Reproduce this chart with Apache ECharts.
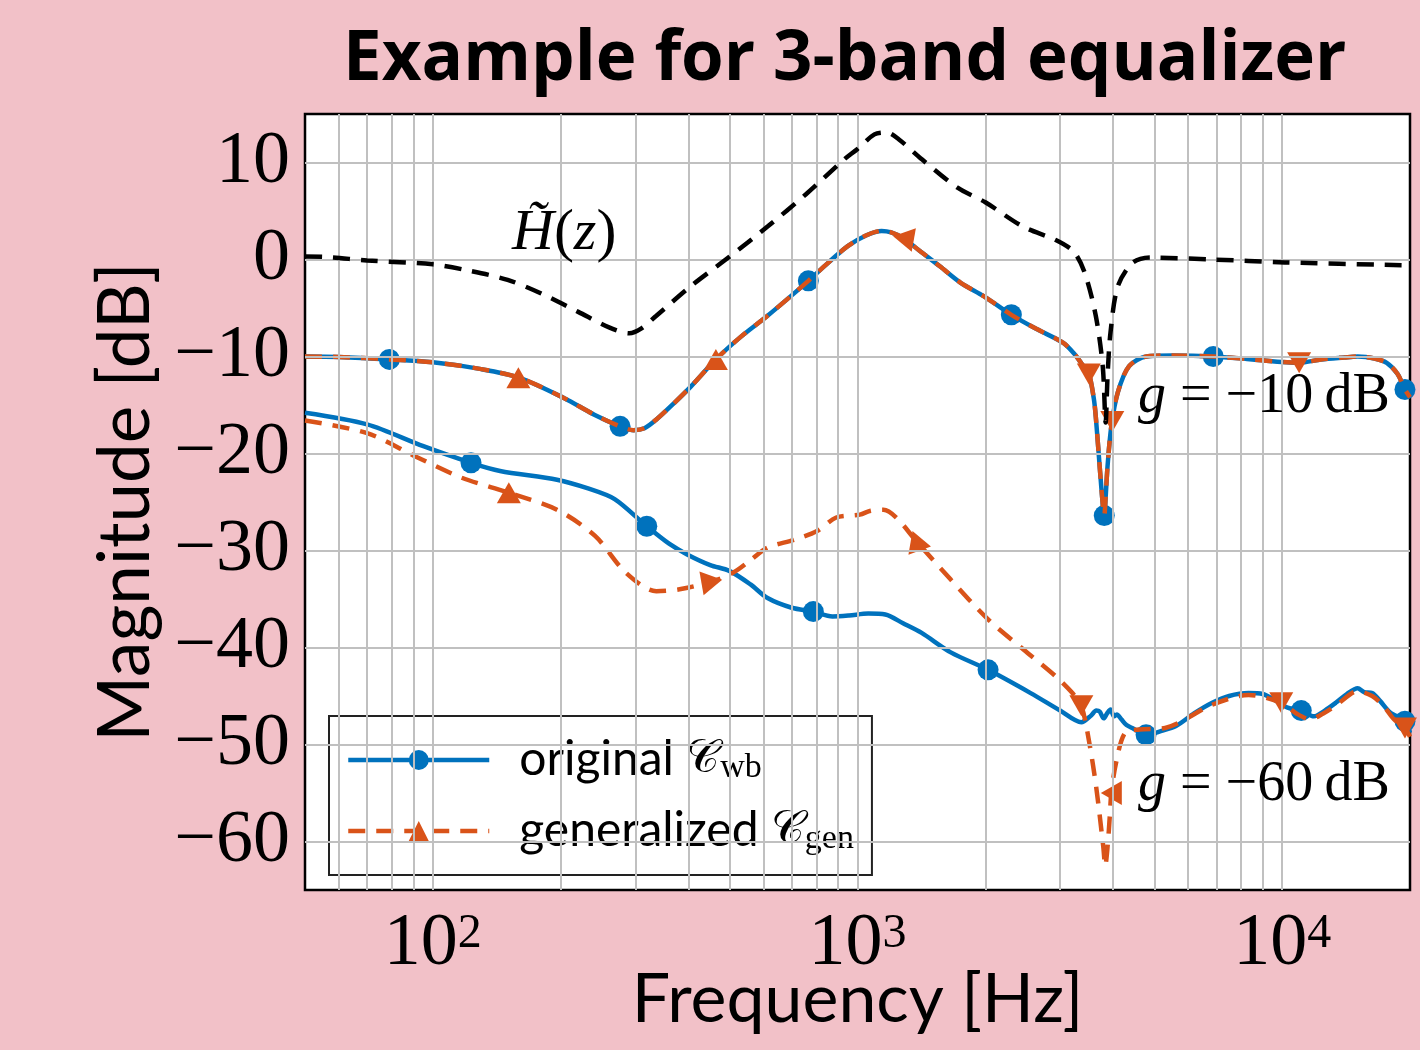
<!DOCTYPE html>
<html>
<head>
<meta charset="utf-8">
<script src="https://cdn.jsdelivr.net/npm/echarts@6/dist/echarts.min.js"></script>
<style>
html,body{margin:0;padding:0;background:#f2c1c8;}
#c{width:1420px;height:1050px;}
</style>
</head>
<body>
<div id="c"></div>
<script>
// ---------- data ----------
// H~(z) reference filter response (black dashed)
const hTildeHz = [50, 55, 70, 100, 120, 150, 180, 220, 260, 290, 310, 336, 405, 500, 614, 755, 929, 1000, 1096, 1170, 1250, 1420, 1720, 2000, 2450, 2930, 3230, 3430, 3640, 3780, 3840, 3880, 3943, 4100, 4440, 4900, 6840, 10140, 20000];
const hTildeDb = [0.3, 0.28, -0.1, -0.5, -1.1, -2.1, -3.5, -5.4, -7.0, -7.6, -7.1, -5.8, -2.75, 0.3, 3.4, 6.7, 10.3, 11.4, 12.9, 13.1, 12.4, 10.3, 7.4, 5.9, 3.4, 2.0, 0.8, -1.4, -5.8, -11.0, -16.8, -12.0, -7.5, -2.8, -0.35, 0.2, 0.0, -0.3, -0.6];

// g = -10 dB, original C_wb (blue solid)
const origM10Hz = [50, 60, 79, 100, 130, 160, 204, 240, 276, 297, 315, 336, 370, 405, 464, 530, 614, 700, 766, 850, 950, 1050, 1140, 1200, 1283, 1400, 1563, 1750, 1986, 2303, 2650, 3052, 3250, 3366, 3506, 3600, 3640, 3717, 3790, 3811, 3840, 3880, 3960, 4102, 4361, 4790, 5500, 6883, 8500, 10965, 12360, 14000, 15060, 16500, 17630, 18700, 19460, 20000];
const origM10Db = [-10.0, -10.05, -10.3, -10.6, -11.3, -12.2, -14.3, -16.0, -17.2, -17.6, -17.4, -16.5, -14.8, -13.1, -10.3, -8.0, -5.8, -3.7, -2.2, -0.4, 1.4, 2.5, 2.95, 2.8, 2.2, 0.9, -0.7, -2.4, -3.8, -5.7, -7.2, -8.6, -9.8, -10.7, -11.8, -14.3, -16.2, -21.3, -25.8, -26.4, -24.5, -21.3, -17.2, -13.7, -11.0, -10.0, -9.9, -10.0, -10.3, -10.65, -10.3, -10.1, -10.0, -10.2, -10.65, -11.8, -13.4, -14.2];
// g = -10 dB, generalized C_gen (orange dashed) - coincides with the original curve
const genM10Hz = origM10Hz;
const genM10Db = origM10Db;

// g = -60 dB, original C_wb (blue solid)
const origM60Hz = [50, 70, 95, 123, 144, 196, 232, 268, 319, 360, 397, 450, 499, 560, 614, 700, 787, 873, 955, 1060, 1163, 1280, 1416, 1658, 2030, 2557, 3000, 3366, 3550, 3650, 3717, 3800, 3870, 3943, 4020, 4080, 4181, 4300, 4436, 4781, 5200, 5622, 6200, 6843, 7500, 8337, 9000, 9575, 10300, 11090, 11880, 12600, 13370, 14200, 15060, 15600, 16290, 17000, 17960, 19460, 20000];
const origM60Db = [-15.8, -17.0, -19.25, -20.96, -21.8, -22.7, -23.6, -24.7, -27.5, -29.3, -30.4, -31.5, -32.1, -33.5, -34.9, -35.9, -36.3, -36.8, -36.7, -36.5, -36.6, -37.5, -38.5, -40.5, -42.3, -44.7, -46.5, -47.7, -47.0, -46.5, -46.6, -47.3, -46.8, -46.4, -47.1, -46.9, -47.4, -48.0, -48.3, -49.0, -48.6, -48.1, -46.8, -45.7, -45.0, -44.7, -44.8, -45.4, -46.2, -46.5, -47.1, -46.5, -45.7, -44.8, -44.2, -44.6, -44.7, -45.5, -46.7, -47.6, -48.8];

// g = -60 dB, generalized C_gen (orange dashed)
const genM60Hz = [50, 70, 91, 117, 151, 196, 241, 285, 336, 381, 454, 509, 560, 614, 710, 803, 891, 1013, 1074, 1151, 1234, 1374, 1658, 2030, 2459, 2934, 3207, 3366, 3504, 3646, 3790, 3832, 3881, 3930, 3960, 4062, 4266, 4614, 5300, 6843, 8337, 9950, 10800, 11640, 12500, 13370, 15060, 16290, 17300, 18330, 19460, 20000];
const genM60Db = [-16.6, -17.9, -20.3, -22.5, -24.05, -25.8, -28.5, -32.3, -34.2, -34.0, -33.2, -32.3, -31.0, -29.7, -28.9, -28.0, -26.6, -26.3, -25.9, -25.8, -26.6, -29.0, -33.0, -37.1, -40.2, -43.0, -44.7, -46.0, -49.5, -54.3, -60.5, -62.5, -60.5, -57.2, -55.0, -51.9, -48.8, -48.45, -48.3, -45.9, -44.9, -45.7, -46.8, -47.4, -46.8, -46.0, -44.5, -45.0, -46.0, -47.4, -48.3, -49.2];

// marker positions
const origM10MarkHz = [79, 276, 766, 2303, 3811, 6883, 19460];
const origM10MarkDb = [-10.3, -17.2, -2.2, -5.7, -26.4, -10.0, -13.4];
const origM60MarkHz = [123, 319, 787, 2030, 4781, 11090, 19460];
const origM60MarkDb = [-20.96, -27.5, -36.3, -42.3, -49.0, -46.5, -47.6];
const genM10MarkHz = [159, 464, 1283, 3506, 3981, 10965];
const genM10MarkDb = [-12.2, -10.3, 2.2, -11.8, -16.7, -10.65];
const genM60MarkHz = [151, 454, 1374, 3366, 3960, 9950, 19460];
const genM60MarkDb = [-24.05, -33.2, -29.0, -46.0, -55.0, -45.7, -48.3];

// style: triangle marker orientation (degrees, counter-clockwise)
const genM10TriRot = [0, 0, 80, 180, 180, 180];
const genM60TriRot = [0, -80, 20, 180, 90, 180, 180];

// axis ticks
const yTickValues = [-60, -50, -40, -30, -20, -10, 0, 10];
const xDecades = [1, 2, 3, 4];

// ---------- chart ----------
const BLUE = '#0072bd';
const ORANGE = '#d95319';
const GRID = '#c0c0c0';
const LW = 4.5;
const DASH = [17, 11];
const pairs = (xs, ys) => xs.map((x, i) => [x, ys[i]]);

const xGridLines = [];
xDecades.forEach(d => {
  for (let k = 1; k <= 9; k++) {
    const f = k * Math.pow(10, d);
    if (f > 50 && f < 20000) xGridLines.push({ xAxis: f });
  }
});
const yGridLines = yTickValues.map(v => ({ yAxis: v }));

const chart = echarts.init(document.getElementById('c'), null, { renderer: 'canvas' });

const legendRich = {
  n: { fontFamily: 'Lato', fontSize: 48, lineHeight: 50, color: '#000', verticalAlign: 'middle' },
  c: { fontFamily: "'DejaVu Serif', 'DejaVu Sans', serif", fontSize: 46, lineHeight: 50, color: '#000', verticalAlign: 'middle' },
  s: { fontFamily: "'Liberation Serif'", fontSize: 34, lineHeight: 32, color: '#000', verticalAlign: 'bottom' }
};

const option = {
  backgroundColor: '#f2c1c8',
  animation: false,
  title: {
    text: 'Example for 3-band equalizer',
    left: 338,
    top: 21,
    textStyle: { fontFamily: "'Open Sans'", fontWeight: 'bold', fontSize: 69, color: '#000' }
  },
  grid: {
    left: 305, right: 10, top: 114, bottom: 160,
    containLabel: false, outerBoundsMode: 'none',
    show: true, backgroundColor: '#ffffff', borderColor: '#000', borderWidth: 2.5
  },
  legend: {
    data: ['orig', 'gen'],
    orient: 'vertical',
    left: 329, top: 716,
    padding: [20, 18, 19, 17],
    itemWidth: 141, itemHeight: 25, itemGap: 22,
    backgroundColor: '#ffffff', borderColor: '#222', borderWidth: 2, borderRadius: 0,
    selectedMode: false,
    lineStyle: { width: LW },
    textStyle: { padding: [0, 0, 0, 25], rich: legendRich },
    formatter: name => name === 'orig'
      ? '{n|original }{c|\u{1D49E}}{s|wb}'
      : '{n|generalized }{c|\u{1D49E}}{s|gen}'
  },
  xAxis: {
    type: 'log', logBase: 10, min: 50, max: 20000,
    axisLine: { show: false }, axisTick: { show: false }, splitLine: { show: false },
    axisLabel: {
      showMinLabel: false, showMaxLabel: false, margin: 20,
      formatter: v => '{b|10}{e|' + Math.round(Math.log10(v)) + '}',
      rich: {
        b: { fontFamily: "'Liberation Serif'", fontSize: 74, lineHeight: 72, color: '#000', verticalAlign: 'bottom' },
        e: { fontFamily: "'Liberation Serif'", fontSize: 48, lineHeight: 36, color: '#000', verticalAlign: 'top' }
      }
    },
    name: 'Frequency [Hz]', nameLocation: 'middle', nameGap: 76, nameMoveOverlap: false,
    nameTextStyle: { fontFamily: 'Lato', fontSize: 68, color: '#000' }
  },
  yAxis: {
    type: 'value', min: -65, max: 15, interval: 5,
    axisLine: { show: false }, axisTick: { show: false }, splitLine: { show: false },
    axisLabel: {
      margin: 15, fontFamily: "'Liberation Serif'", fontSize: 74, color: '#000',
      formatter: v => (yTickValues.indexOf(v) >= 0 ? String(v).replace('-', '\u2212') : '')
    },
    name: 'Magnitude [dB]', nameLocation: 'middle', nameGap: 143, nameMoveOverlap: false,
    nameTextStyle: { fontFamily: 'Lato', fontSize: 71, color: '#000' }
  },
  graphic: [
    { type: 'text', x: 512, y: 234, z: 100, style: {
        text: '{i|H\u0303}{r|(}{i|z}{r|)}', verticalAlign: 'middle',
        rich: { i: { fontFamily: "'Liberation Serif'", fontStyle: 'italic', fontSize: 58, fill: '#000' },
                r: { fontFamily: "'Liberation Serif'", fontSize: 60, fill: '#000' } } } },
    { type: 'text', x: 1138, y: 397, z: 100, style: {
        text: '{i|g}{r| = \u221210\u2009dB}', verticalAlign: 'middle',
        rich: { i: { fontFamily: "'Liberation Serif'", fontStyle: 'italic', fontSize: 56, fill: '#000' },
                r: { fontFamily: "'Liberation Serif'", fontSize: 56, fill: '#000' } } } },
    { type: 'text', x: 1138, y: 785, z: 100, style: {
        text: '{i|g}{r| = \u221260\u2009dB}', verticalAlign: 'middle',
        rich: { i: { fontFamily: "'Liberation Serif'", fontStyle: 'italic', fontSize: 56, fill: '#000' },
                r: { fontFamily: "'Liberation Serif'", fontSize: 56, fill: '#000' } } } }
  ],
  series: [
    { name: 'grid', type: 'line', data: [], z: 1, silent: true,
      markLine: { silent: true, symbol: ['none', 'none'], label: { show: false },
        lineStyle: { color: GRID, width: 2, type: 'solid' },
        emphasis: { disabled: true },
        data: xGridLines.concat(yGridLines) } },
    { name: 'orig', type: 'line', data: pairs(origM10Hz, origM10Db), z: 3,
      showSymbol: false, symbol: 'circle', symbolSize: 20, smooth: 0.3,
      lineStyle: { color: BLUE, width: LW }, itemStyle: { color: BLUE } },
    { name: 'orig', type: 'line', data: pairs(origM60Hz, origM60Db), z: 3,
      showSymbol: false, symbol: 'circle', symbolSize: 20, smooth: 0.3,
      lineStyle: { color: BLUE, width: LW }, itemStyle: { color: BLUE } },
    { name: 'origMarks10', type: 'scatter', data: pairs(origM10MarkHz, origM10MarkDb), z: 3,
      symbol: 'circle', symbolSize: 21, itemStyle: { color: BLUE, opacity: 1 } },
    { name: 'origMarks60', type: 'scatter', data: pairs(origM60MarkHz, origM60MarkDb), z: 3,
      symbol: 'circle', symbolSize: 21, itemStyle: { color: BLUE, opacity: 1 } },
    { name: 'gen', type: 'line', data: pairs(genM10Hz, genM10Db), z: 4,
      showSymbol: false, symbol: 'triangle', symbolSize: 22, smooth: 0.3,
      lineStyle: { color: ORANGE, width: LW, type: DASH }, itemStyle: { color: ORANGE } },
    { name: 'gen', type: 'line', data: pairs(genM60Hz, genM60Db), z: 4,
      showSymbol: false, symbol: 'triangle', symbolSize: 22, smooth: 0.3,
      lineStyle: { color: ORANGE, width: LW, type: DASH }, itemStyle: { color: ORANGE } },
    { name: 'genMarks10', type: 'scatter', data: pairs(genM10MarkHz, genM10MarkDb), z: 4,
      symbol: 'triangle', symbolSize: [24, 21], symbolRotate: (v, p) => genM10TriRot[p.dataIndex],
      itemStyle: { color: ORANGE, opacity: 1 } },
    { name: 'genMarks60', type: 'scatter', data: pairs(genM60MarkHz, genM60MarkDb), z: 4,
      symbol: 'triangle', symbolSize: [24, 21], symbolRotate: (v, p) => genM60TriRot[p.dataIndex],
      itemStyle: { color: ORANGE, opacity: 1 } },
    { name: 'Htilde', type: 'line', data: pairs(hTildeHz, hTildeDb), z: 5,
      showSymbol: false, symbol: 'none', smooth: 0.3,
      lineStyle: { color: '#000', width: LW, type: DASH } }
  ]
};
chart.setOption(option);
</script>
</body>
</html>
